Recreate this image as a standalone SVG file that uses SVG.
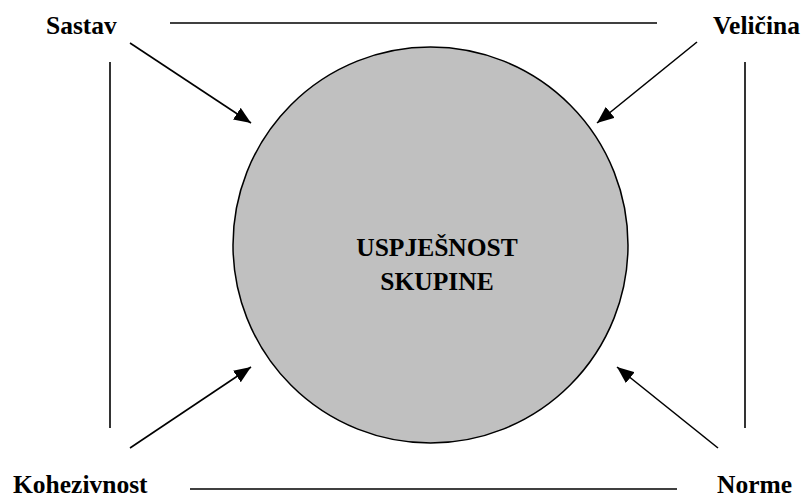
<svg xmlns="http://www.w3.org/2000/svg" width="809" height="500" viewBox="0 0 809 500">
<style>
text{font-family:'Liberation Serif','Times New Roman','DejaVu Serif',serif;font-weight:bold;font-size:25.5px;fill:#000}
.ln{stroke:#000;stroke-width:1.6;fill:none}
</style>
<defs>
<marker id="ah" viewBox="0 0 17 14" refX="17" refY="7" markerWidth="17" markerHeight="14" markerUnits="userSpaceOnUse" orient="auto">
<path d="M0,0 L17,7 L0,14 z" fill="#000"/>
</marker>
</defs>
<rect width="809" height="500" fill="#fff"/>
<g id="center">
<ellipse cx="430.5" cy="245" rx="197.5" ry="198" fill="#c0c0c0" stroke="#000" stroke-width="1.5"/>
<text font-family="Liberation Serif, serif" x="437" y="256" text-anchor="middle">USPJEŠNOST</text>
<text font-family="Liberation Serif, serif" x="437" y="290" text-anchor="middle">SKUPINE</text>
</g>
<g id="sastav"><text font-family="Liberation Serif, serif" x="46" y="34">Sastav</text></g>
<g id="velicina"><text font-family="Liberation Serif, serif" x="713" y="34">Veličina</text></g>
<g id="kohezivnost"><text font-family="Liberation Serif, serif" x="13" y="493">Kohezivnost</text></g>
<g id="norme"><text font-family="Liberation Serif, serif" x="717" y="493">Norme</text></g>
<g id="connectors">
<line class="ln" x1="170" y1="23" x2="657" y2="23"/>
<line class="ln" x1="190" y1="489" x2="677" y2="489"/>
<line class="ln" x1="110" y1="62" x2="110" y2="428"/>
<line class="ln" x1="745" y1="62" x2="745" y2="428"/>
<line class="ln" x1="130" y1="43" x2="251" y2="123" marker-end="url(#ah)"/>
<line class="ln" x1="697" y1="42" x2="597" y2="123" marker-end="url(#ah)"/>
<line class="ln" x1="130" y1="448" x2="251" y2="367" marker-end="url(#ah)"/>
<line class="ln" x1="718" y1="448" x2="617" y2="367" marker-end="url(#ah)"/>
</g>
</svg>
